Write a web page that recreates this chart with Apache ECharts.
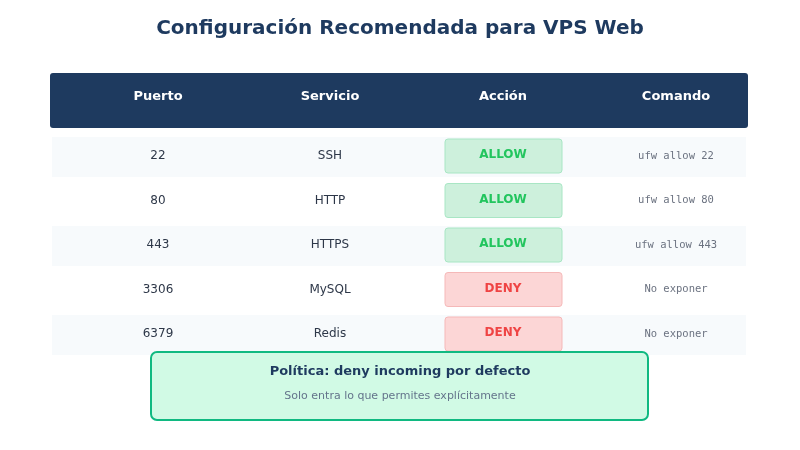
<!DOCTYPE html>
<html><head><meta charset="utf-8">
<script src="https://cdn.jsdelivr.net/npm/echarts@6/dist/echarts.min.js"></script>
<style>html,body{margin:0;padding:0;background:#fff}#c{width:800px;height:450px}</style>
</head><body><div id="c"></div>
<script>
var headers = ['Puerto','Servicio','Acción','Comando'];
var ports = ['22','80','443','3306','6379'];
var services = ['SSH','HTTP','HTTPS','MySQL','Redis'];
var actions = ['ALLOW','ALLOW','ALLOW','DENY','DENY'];
var commands = ['ufw allow 22','ufw allow 80','ufw allow 443','No exponer','No exponer'];

var colX = [158, 330, 503, 676];
var font = 'DejaVu Sans';
var els = [];
els.push({type:'text', style:{text:'Configuración Recomendada para VPS Web', x:400, y:29, align:'center', verticalAlign:'middle', font:'bold 20px "DejaVu Sans"', fill:'#1e3a5f'}});
els.push({type:'rect', shape:{x:50,y:73,width:698,height:55,r:3}, style:{fill:'#1e3a5f'}});
headers.forEach(function(h,i){
  els.push({type:'text', style:{text:h, x:colX[i], y:97, align:'center', verticalAlign:'middle', font:'bold 13px "DejaVu Sans"', fill:'#ffffff'}});
});
ports.forEach(function(p,i){
  var cy = 156 + i*44.5;
  if (i%2===0) els.push({type:'rect', shape:{x:52,y:cy-19,width:694,height:40}, style:{fill:'#f7fafc'}});
  els.push({type:'text', style:{text:p, x:colX[0], y:cy, align:'center', verticalAlign:'middle', font:'12px "DejaVu Sans"', fill:'#2d3748'}});
  els.push({type:'text', style:{text:services[i], x:colX[1], y:cy, align:'center', verticalAlign:'middle', font:'12px "DejaVu Sans"', fill:'#2d3748'}});
  var allow = actions[i]==='ALLOW';
  els.push({type:'rect', shape:{x:445,y:cy-17,width:117,height:34,r:3}, style:{fill:allow?'#cdf0dc':'#fcd6d6', stroke:allow?'#a8e6c4':'#f5b8b8', lineWidth:1}});
  els.push({type:'text', style:{text:actions[i], x:colX[2], y:cy-1, align:'center', verticalAlign:'middle', font:'bold 12px "DejaVu Sans"', fill:allow?'#22c55e':'#ef4444'}});
  els.push({type:'text', style:{text:commands[i], x:colX[3], y:cy, align:'center', verticalAlign:'middle', font:'10.5px "DejaVu Sans Mono"', fill:'#6b7280'}});
});
els.push({type:'rect', shape:{x:151,y:352,width:497,height:68,r:6}, style:{fill:'#d1fae5', stroke:'#10b981', lineWidth:2}});
els.push({type:'text', style:{text:'Política: deny incoming por defecto', x:400, y:372, align:'center', verticalAlign:'middle', font:'bold 13px "DejaVu Sans"', fill:'#1e3a5f'}});
els.push({type:'text', style:{text:'Solo entra lo que permites explícitamente', x:400, y:396, align:'center', verticalAlign:'middle', font:'11px "DejaVu Sans"', fill:'#64748b'}});

var chart = echarts.init(document.getElementById('c'));
chart.setOption({animation:false, graphic:{elements:els}});
</script></body></html>
